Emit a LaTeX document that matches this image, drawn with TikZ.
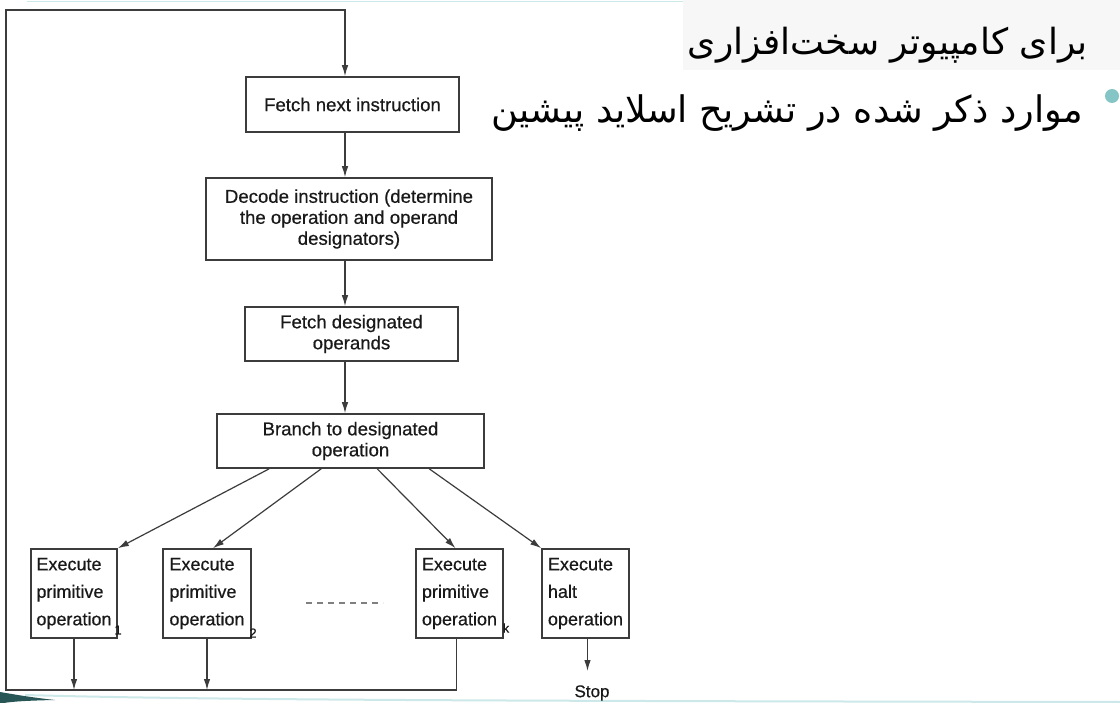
\documentclass[tikz,border=0pt]{standalone}
\usepackage{fontspec}
\setmainfont{Liberation Sans}
\newfontfamily\diagfont[FakeBold=0.5]{Liberation Sans}
\newfontfamily\arabicfont[Script=Arabic]{DejaVu Sans}
\TeXXeTstate=1
\usetikzlibrary{arrows.meta,calc}
\definecolor{linecol}{RGB}{60,60,60}
\definecolor{textcol}{RGB}{25,25,25}
\definecolor{tealbul}{RGB}{134,197,197}
\definecolor{tealdark}{RGB}{40,85,85}
\definecolor{teallight}{RGB}{205,232,232}
\definecolor{titlebg}{RGB}{247,247,247}
\tikzset{
  flowbox/.style={draw=linecol, line width=1.6pt, inner sep=0pt, align=center,
     text=textcol, font=\diagfont\fontsize{18.6}{21}\selectfont},
  execbox/.style={draw=linecol, line width=1.6pt, inner sep=0pt, align=left,
     text=textcol, minimum height=89pt, font=\diagfont\fontsize{18}{27.5}\selectfont},
  arr/.style={draw=linecol, line width=1.2pt, -{Latex[length=11pt,width=6.5pt]}},
  subs/.style={text=textcol, inner sep=0pt, font=\diagfont\fontsize{13}{13}\selectfont},
  fa/.style={text=black, inner sep=0pt}
}
\begin{document}
\begin{tikzpicture}[x=1pt,y=-1pt]
\useasboundingbox (0,0) rectangle (1120,703);
% slide decoration
\fill[white] (0,0) rectangle (1120,703);
\draw[teallight, line width=1.5pt] (27,1.5) -- (683,1.5);
\fill[titlebg] (683,0) rectangle (1120,70);
\draw[teallight, line width=2pt] (25,695) .. controls (200,700) and (500,701) .. (1120,702);
\fill[tealdark] (0,692) .. controls (12,694) and (28,697) .. (55,700)
   .. controls (30,700.5) and (12,701.5) .. (4,703) -- (0,703) -- cycle;

% Persian text
\node[fa, anchor=base east] (title) at (1088,55)
  {\arabicfont\fontsize{36}{42}\selectfont\beginR برای کامپیوتر سخت‌افزاری\endR};
\node[fa, anchor=base east] (line2) at (1083,123)
  {\arabicfont\fontsize{36.6}{42}\selectfont\beginR موارد ذکر شده در تشریح اسلاید پیشین\endR};
\fill[tealbul] (1112,96) circle (7);

% flowchart boxes
\node[flowbox, minimum width=213pt, minimum height=55pt] (fetch) at (352.5,104.5) {Fetch next instruction};
\node[flowbox, minimum width=286pt, minimum height=82pt] (decode) at (349,219)
  {Decode instruction (determine\\the operation and operand\\designators)};
\node[flowbox, minimum width=213pt, minimum height=54pt] (fdes) at (351.5,334)
  {Fetch designated\\operands};
\node[flowbox, minimum width=267pt, minimum height=54pt] (branch) at (350.5,441)
  {Branch to designated\\operation};

\node[execbox, minimum width=86pt] (e1) at (74,593.5) {Execute\\primitive\\operation};
\node[execbox, minimum width=88pt] (e2) at (207,593.5) {Execute\\primitive\\operation};
\node[execbox, minimum width=87pt] (ek) at (459.5,593.5) {Execute\\primitive\\operation};
\node[execbox, minimum width=87pt] (halt) at (585.5,593.5) {Execute\\halt\\operation};

\node[subs] (s1) at (118,630) {1};
\node[subs] (s2) at (253,633) {2};
\node[subs] (sk) at (506,628) {k};

\node[text=textcol, inner sep=0pt, font=\diagfont\fontsize{17}{17}\selectfont] (stop) at (592,693) {Stop};

\draw[linecol!65, line width=1.1pt, dash pattern=on 6pt off 5pt] (306,603) -- (383,603);

% connectors
\coordinate (cx) at (345,0);
\coordinate (bl) at (6,690);
\coordinate (tl) at (6,10);
\coordinate (hs) at ($(halt.south)+(2,0)$);
\draw[arr] (fetch.south -| cx) -- (decode.north -| cx);
\draw[arr] (decode.south -| cx) -- (fdes.north -| cx);
\draw[arr] (fdes.south -| cx) -- (branch.north -| cx);

\draw[arr] ($(branch.south west)+(53,0)$) -- (e1.north east);
\draw[arr] ($(branch.south west)+(105,0)$) -- ($(e2.north)+(6,0)$);
\draw[arr] ($(branch.south west)+(161,0)$) -- ($(ek.north)+(-4,0)$);
\draw[arr] ($(branch.south west)+(213,0)$) -- (halt.north west);

\draw[arr] (e1.south) -- (e1.south |- bl);
\draw[arr] (e2.south) -- (e2.south |- bl);
\draw[arr] ($(ek.south)+(-3,0)$) |- (bl) -- (tl) -| (fetch.north -| cx);
\draw[arr] (hs) -- (hs |- 0,671);
\end{tikzpicture}
\end{document}
